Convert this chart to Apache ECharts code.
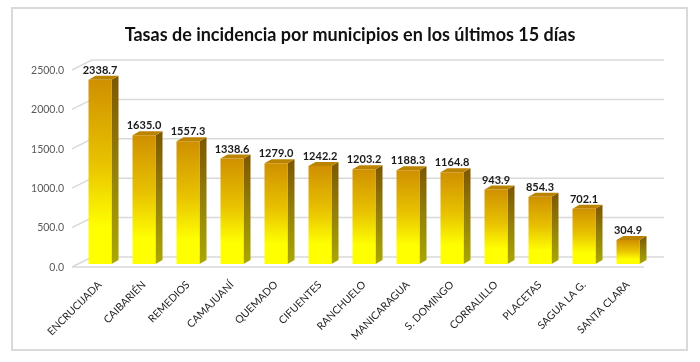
<!DOCTYPE html>
<html>
<head>
<meta charset="utf-8">
<script src="https://cdn.jsdelivr.net/npm/echarts@6/dist/echarts.min.js"></script>
<style>html,body{margin:0;padding:0;background:#fff;}#c{width:700px;height:362px;}</style>
</head>
<body>
<div id="c"></div>
<script>
const categories = ['ENCRUCIJADA','CAIBARIÉN','REMEDIOS','CAMAJUANÍ','QUEMADO','CIFUENTES','RANCHUELO','MANICARAGUA','S. DOMINGO','CORRALILLO','PLACETAS','SAGUA LA G.','SANTA CLARA'];
const values = [2338.7,1635.0,1557.3,1338.6,1279.0,1242.2,1203.2,1188.3,1164.8,943.9,854.3,702.1,304.9];
const yTicks = [0,500,1000,1500,2000,2500];
const titleText = 'Tasas de incidencia por municipios en los últimos 15 días';

const FONT = 'Lato';
const chart = echarts.init(document.getElementById('c'), null, {renderer:'canvas'});
const DX = 7, DY = -4, BW = 23;

chart.setOption({
  backgroundColor:'#ffffff',
  animation:false,
  title:{text:titleText, left:'center', top:21,
    textStyle:{fontFamily:FONT, fontWeight:'bold', fontSize:18, color:'#111'}},
  graphic:[{type:'rect', shape:{x:12,y:8,width:675,height:342},
    style:{fill:'none', stroke:'#d9d9d9', lineWidth:2}, silent:true, z:-1}],
  grid:{left:78, right:50, top:67, bottom:98},
  xAxis:{type:'category', data:categories,
    axisLine:{show:false}, axisTick:{show:false},
    axisLabel:{rotate:45, interval:0, margin:19, fontFamily:FONT, fontSize:10.5, color:'#262626'}},
  yAxis:{type:'value', min:0, max:2500, interval:500,
    axisLine:{show:false}, axisTick:{show:false}, splitLine:{show:false},
    axisLabel:{margin:14, fontFamily:FONT, fontSize:10.5, color:'#595959',
      verticalAlign:'top', lineHeight:7,
      formatter:v=>v.toFixed(1)}},
  series:[
    {type:'custom', silent:true, z:1, clip:false,
     data:yTicks.map(v=>[0,v]),
     renderItem:(params, api)=>{
       const cs = params.coordSys;
       const y = api.coord([0, api.value(1)])[1];
       const xl = cs.x, xr = cs.x + cs.width;
       const children = [{type:'polyline', shape:{points:[[xl-6,y+3],[xl+14,y-7],[xr+14,y-7]]},
         style:{stroke:'#d9d9d9', lineWidth:1.5, fill:null}}];
       if (api.value(1) === 0) {
         children.push({type:'line', shape:{x1:xl-6,y1:y+3,x2:xr-6,y2:y+3},
           style:{stroke:'#d9d9d9', lineWidth:1.5}});
       }
       return {type:'group', children};
     }},
    {type:'bar', data:values, barWidth:BW, z:3,
     itemStyle:{color:new echarts.graphic.LinearGradient(0,0,0,1,[
       {offset:0,color:'#cf9000'},{offset:0.45,color:'#e8c200'},{offset:0.8,color:'#ffff00'},{offset:1,color:'#ffff00'}])},
     label:{show:true, position:'top', distance:4, fontFamily:FONT, fontWeight:'bold', fontSize:11, color:'#1a1a1a',
       formatter:p=>p.value.toFixed(1)}},
    {type:'custom', silent:true, z:2, clip:false,
     data:values.map((v,i)=>[i,v]),
     renderItem:(params, api)=>{
       const top = api.coord([api.value(0), api.value(1)]);
       const base = api.coord([api.value(0), 0]);
       const x0 = top[0]-BW/2, x1 = top[0]+BW/2;
       return {type:'group', children:[
         {type:'polygon', shape:{points:[[x1,top[1]],[x1+DX,top[1]+DY],[x1+DX,base[1]+DY],[x1,base[1]]]},
          style:{fill:new echarts.graphic.LinearGradient(0,0,0,1,[
            {offset:0,color:'#7d5600'},{offset:0.5,color:'#94800a'},{offset:1,color:'#aaa800'}])}},
         {type:'polygon', shape:{points:[[x0,top[1]],[x0+DX,top[1]+DY],[x1+DX,top[1]+DY],[x1,top[1]]]},
          style:{fill:'#bb8400'}}
       ]};
     }}
  ]
});
</script>
</body>
</html>
